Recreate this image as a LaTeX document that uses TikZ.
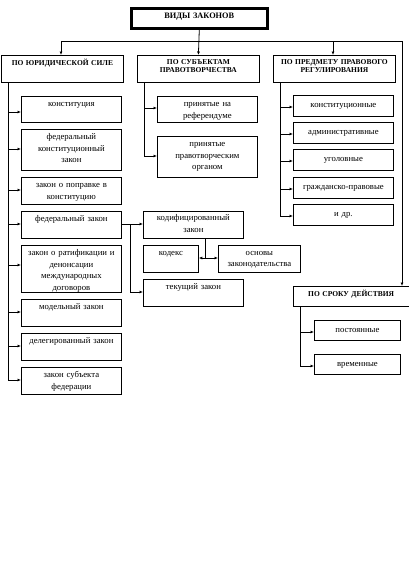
\documentclass[tikz,border=0pt]{standalone}
\usepackage{fontspec}
\setmainfont{Liberation Serif}
\usetikzlibrary{arrows.meta}
\tikzset{
  box/.style={draw, line width=0.8pt, inner sep=0pt, fill=white},
  titlebox/.style={draw, line width=2.6pt, inner sep=0pt},
  txt/.style={inner sep=0pt, align=center, font=\fontsize{8.7}{11.6}\selectfont, execute at begin node={\strut}},
  hdr/.style={inner sep=0pt, align=center, font=\fontsize{7.5}{8.6}\selectfont\bfseries},
  ttl/.style={inner sep=0pt, align=center, font=\fontsize{8.3}{9}\selectfont\bfseries},
  conn/.style={line width=0.8pt},
  arr/.style={line width=0.8pt, -{Latex[length=3.5pt,width=3pt]}},
  darr/.style={line width=0.8pt, {Latex[length=3.5pt,width=3pt]}-{Latex[length=3.5pt,width=3pt]}},
}
% #1 box style, #2 text style, #3 name, #4 x1, #5 y1, #6 x2, #7 y2, #8 text shift, #9 text
\newcommand\mkbox[9]{%
  \pgfmathsetmacro\bw{#6-#4}\pgfmathsetmacro\bh{#7-#5}\pgfmathsetmacro\tw{#6-#4}%
  \node[#1, minimum width=\bw pt, minimum height=\bh pt, anchor=north west] (#3) at (#4,#5) {};
  \node[#2, text width=\tw pt, anchor=north] (#3-t) at ([yshift=-#8pt]#3.north) {#9};
}
\begin{document}
\begin{tikzpicture}[x=1pt,y=-1pt]
\useasboundingbox (0,0) rectangle (409,571);
\fill[white] (0,0) rectangle (409,571);

\mkbox{titlebox}{ttl}{top}{130}{7}{266}{27}{5.5}{ВИДЫ ЗАКОНОВ}

\mkbox{box}{hdr}{ur}{1}{55}{123}{82}{4}{ПО ЮРИДИЧЕСКОЙ СИЛЕ}
\mkbox{box}{hdr}{sub}{137}{55}{259}{82}{4}{ПО СУБЪЕКТАМ\\ПРАВОТВОРЧЕСТВА}
\mkbox{box}{hdr}{pred}{273}{55}{395}{82}{4}{ПО ПРЕДМЕТУ ПРАВОВОГО\\РЕГУЛИРОВАНИЯ}
\mkbox{box}{hdr}{srok}{293}{286}{408.5}{306}{4}{ПО СРОКУ ДЕЙСТВИЯ}

% left column
\mkbox{box}{txt}{l1}{21}{96}{121}{122}{2.3}{конституция}
\mkbox{box}{txt}{l2}{21}{129}{121}{170}{2.3}{федеральный\\конституционный\\закон}
\mkbox{box}{txt}{l3}{21}{177}{121}{204}{2.3}{закон о поправке в\\конституцию}
\mkbox{box}{txt}{l4}{21}{211}{121}{238}{2.3}{федеральный закон}
\mkbox{box}{txt}{l5}{21}{245}{121}{292}{2.3}{закон о ратификации и\\денонсации\\международных\\договоров}
\mkbox{box}{txt}{l6}{21}{299}{121}{326}{2.3}{модельный закон}
\mkbox{box}{txt}{l7}{21}{333}{121}{360}{2.3}{делегированный закон}
\mkbox{box}{txt}{l8}{21}{367}{121}{394}{2.3}{закон субъекта\\федерации}

% middle column
\mkbox{box}{txt}{m1}{157}{96}{257}{122}{2.3}{принятые на\\референдуме}
\mkbox{box}{txt}{m2}{157}{136}{257}{177}{2.3}{принятые\\правотворческим\\органом}
\mkbox{box}{txt}{k1}{143}{211}{243}{238}{1.5}{кодифицированный\\закон}
\mkbox{box}{txt}{k2}{143}{245}{198}{272}{2}{кодекс}
\mkbox{box}{txt}{k3}{218}{245}{300}{272}{2}{основы\\законодательства}
\mkbox{box}{txt}{k4}{143}{279}{243}{306}{2}{текущий закон}

% right column
\mkbox{box}{txt}{r1}{293}{95}{393}{116}{4.2}{конституционные}
\mkbox{box}{txt}{r2}{293}{122}{393}{143}{4.2}{административные}
\mkbox{box}{txt}{r3}{293}{149}{393}{170}{4.2}{уголовные}
\mkbox{box}{txt}{r4}{293}{177}{393}{198}{4.2}{гражданско-правовые}
\mkbox{box}{txt}{r5}{293}{204}{393}{225}{4.2}{и др.}

% time column
\mkbox{box}{txt}{s1}{314}{320}{400}{340}{4.2}{постоянные}
\mkbox{box}{txt}{s2}{314}{354}{400}{374}{4}{временные}

% top distribution
\draw[arr] (top.south) -- (sub.north);
\draw[conn] (61,41) -- (402,41);
\draw[arr] (61,41) -- (ur.north -| 61,0);
\draw[arr] (333,41) -- (pred.north -| 333,0);
\draw[arr] (402,41) -- (srok.north -| 402,0);

% left column connectors
\draw[conn] (ur.south -| 8,0) -- (8,380);
\foreach \b/\y in {l1/112,l2/149,l3/190,l4/224,l5/265,l6/312,l7/346,l8/380}
  \draw[arr] (8,\y) -- (\b.west |- 0,\y);

% middle column connectors
\draw[conn] (sub.south -| 144,0) -- (144,156);
\draw[arr] (144,108) -- (m1.west |- 0,108);
\draw[arr] (144,156) -- (m2.west |- 0,156);

\draw[conn] (l4.east |- 0,224) -- (130,224) -- (130,292);
\draw[arr] (130,224) -- (k1.west |- 0,224);
\draw[arr] (130,292) -- (k4.west |- 0,292);
\draw[conn] (k1.south -| 205,0) -- (205,258);
\draw[darr] (k2.east |- 0,258) -- (k3.west |- 0,258);

% right column connectors
\draw[conn] (pred.south -| 280,0) -- (280,216);
\foreach \b/\y in {r1/107,r2/134,r3/161,r4/189,r5/216}
  \draw[arr] (280,\y) -- (\b.west |- 0,\y);

% time connectors
\draw[conn] (srok.south -| 300,0) -- (300,366);
\draw[arr] (300,332) -- (s1.west |- 0,332);
\draw[arr] (300,366) -- (s2.west |- 0,366);
\end{tikzpicture}
\end{document}
